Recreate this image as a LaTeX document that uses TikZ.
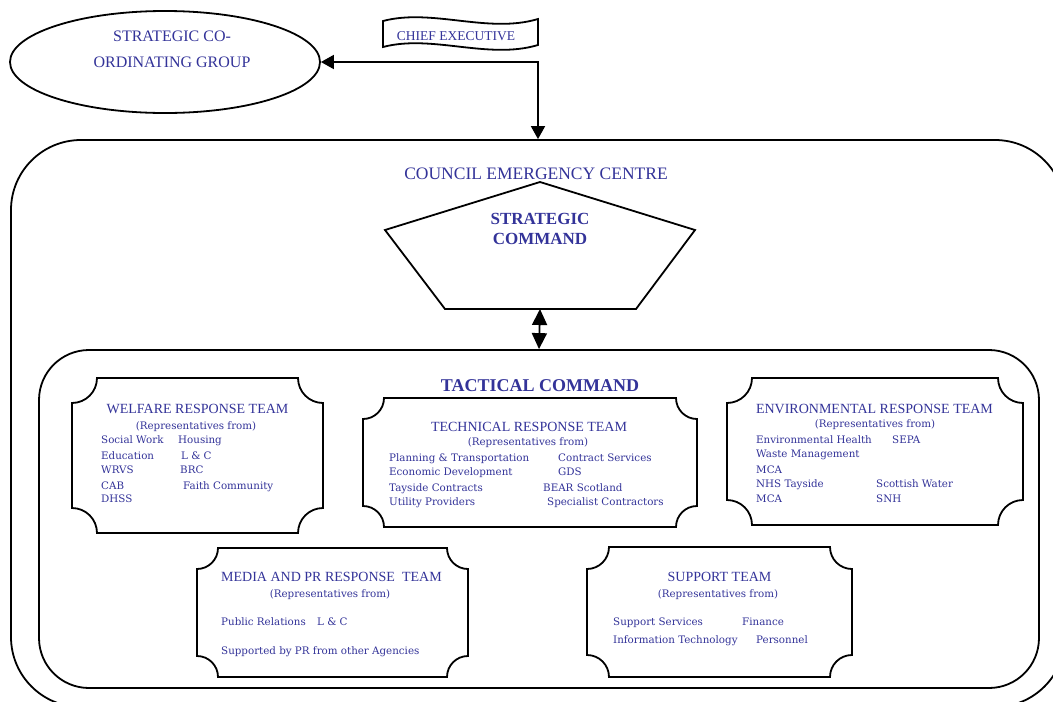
\documentclass[tikz,border=0pt]{standalone}
\usepackage{fontspec}
\setmainfont{Liberation Serif}
\newfontfamily\itemfont{DejaVu Serif}
\usetikzlibrary{shapes.geometric,arrows.meta}
\definecolor{txt}{RGB}{51,51,153}
\tikzset{
 ln/.style={line width=1.8pt, draw=black},
 head/.style={font=\fontsize{14}{16}\selectfont, text=txt, inner sep=0, anchor=base},
 headw/.style={font=\fontsize{14}{16}\selectfont, text=txt, inner sep=0, anchor=base west},
 rep/.style={font=\itemfont\fontsize{10.3}{12}\selectfont, text=txt, inner sep=0, anchor=base},
 item/.style={font=\itemfont\fontsize{10.3}{12}\selectfont, text=txt, inner sep=0, anchor=base west},
 tipboth/.style={{Triangle[length=13pt,width=14pt]}-{Triangle[length=13pt,width=14pt]}},
 tipbig/.style={{Triangle[length=16pt,width=15pt]}-{Triangle[length=16pt,width=15pt]}},
}
\newcommand\plaque[5]{%
 \draw[ln] ({#1+#5},#2) -- ({#3-#5},#2) arc[start angle=180,end angle=90,radius=#5]
 -- (#3,{#4-#5}) arc[start angle=270,end angle=180,radius=#5]
 -- ({#1+#5},#4) arc[start angle=0,end angle=-90,radius=#5]
 -- (#1,{#2+#5}) arc[start angle=90,end angle=0,radius=#5] -- cycle;}
\begin{document}
\begin{tikzpicture}[x=1pt,y=-1pt]
\useasboundingbox (0,0) rectangle (1053,702);
\clip (0,0) rectangle (1053,702);
\fill[white] (0,0) rectangle (1053,702);

% outer council emergency centre
\node[ln, draw, rounded corners=70pt, minimum width=1054pt, minimum height=567pt, inner sep=0] (cec) at (538,423.5) {};
% inner tactical box
\node[ln, draw, rounded corners=50pt, minimum width=1000pt, minimum height=338pt, inner sep=0] (tac) at (539,519) {};

% strategic co-ordinating group
\node[ln, draw, ellipse, minimum width=310pt, minimum height=102pt, inner sep=0] (scg) at (165,62) {};
\node[font=\fontsize{16}{26}\selectfont, text=txt, align=center, inner sep=0] (scgt) at (172,49) {STRATEGIC CO-\\ORDINATING GROUP};

% chief executive banner
\draw[ln] (383,21) .. controls (432,8) and (488,34) .. (538,19) -- (538,45)
  .. controls (488,60) and (432,34) .. (383,47) -- cycle;
\node[font=\fontsize{13.5}{15}\selectfont, text=txt, inner sep=0] (ce) at (456,36) {CHIEF EXECUTIVE};

\draw[ln, tipboth] (scg.east) -| (cec.north);

\node[font=\fontsize{17.5}{20}\selectfont, text=txt, inner sep=0] (cect) at (536,174) {COUNCIL EMERGENCY CENTRE};

% strategic command pentagon
\coordinate (pa) at (540,182);
\coordinate (pr) at (695,230);
\coordinate (pbr) at (636,309);
\coordinate (pbl) at (445,309);
\coordinate (pl) at (385,230);
\coordinate (pb) at (540,309);
\draw[ln, fill=white] (pa) -- (pr) -- (pbr) -- (pbl) -- (pl) -- cycle;
\node[font=\bfseries\fontsize{17}{19.5}\selectfont, text=txt, align=center, inner sep=0] (stc) at (540,229) {STRATEGIC\\COMMAND};

\draw[ln, tipbig] (pb) -- (tac.north);

\node[font=\bfseries\fontsize{18}{20}\selectfont, text=txt, inner sep=0] (tct) at (540,386) {TACTICAL COMMAND};

% welfare
\plaque{72}{378}{323}{533}{25}
\node[head] (wh) at (197.5,413) {WELFARE RESPONSE TEAM};
\node[rep] (wr) at (196,429) {(Representatives from)};
\node[item] (w1) at (101,443) {Social Work};
\node[item] (w2) at (178,443) {Housing};
\node[item] (w3) at (101,459) {Education};
\node[item] (w4) at (181,459) {L \& C};
\node[item] (w5) at (101,473) {WRVS};
\node[item] (w6) at (180,473) {BRC};
\node[item] (w7) at (101,489) {CAB};
\node[item] (w8) at (183,489) {Faith Community};
\node[item] (w9) at (101,502) {DHSS};

% technical
\plaque{363}{398}{697}{527}{21}
\node[head] (th) at (529,431) {TECHNICAL RESPONSE TEAM};
\node[rep] (tr) at (528,445) {(Representatives from)};
\node[item] (t1) at (389,461) {Planning \& Transportation};
\node[item] (t2) at (558,461) {Contract Services};
\node[item] (t3) at (389,475) {Economic Development};
\node[item] (t4) at (558,475) {GDS};
\node[item] (t5) at (389,491) {Tayside Contracts};
\node[item] (t6) at (543,491) {BEAR Scotland};
\node[item] (t7) at (389,505) {Utility Providers};
\node[item] (t8) at (547,505) {Specialist Contractors};

% environmental
\plaque{727}{378}{1023}{525}{25}
\node[head] (eh) at (874.5,413) {ENVIRONMENTAL RESPONSE TEAM};
\node[rep] (er) at (875,427) {(Representatives from)};
\node[item] (e1) at (756,443) {Environmental Health};
\node[item] (e2) at (892,443) {SEPA};
\node[item] (e3) at (756,457) {Waste Management};
\node[item] (e4) at (756,473) {MCA};
\node[item] (e5) at (756,487) {NHS Tayside};
\node[item] (e6) at (876,487) {Scottish Water};
\node[item] (e7) at (756,502) {MCA};
\node[item] (e8) at (876,502) {SNH};

% media
\plaque{197}{548}{468}{677}{21}
\node[headw] (mh) at (221,581) {MEDIA AND PR RESPONSE\ \ TEAM};
\node[rep] (mr) at (330,597) {(Representatives from)};
\node[item] (m1) at (221,625) {Public Relations};
\node[item] (m2) at (317,625) {L \& C};
\node[item] (m3) at (221,654) {Supported by PR from other Agencies};

% support
\plaque{587}{547}{852}{677}{22}
\node[head] (sh) at (719.5,581) {SUPPORT TEAM};
\node[rep] (sr) at (718,597) {(Representatives from)};
\node[item] (s1) at (613,625) {Support Services};
\node[item] (s2) at (742,625) {Finance};
\node[item] (s3) at (613,643) {Information Technology};
\node[item] (s4) at (756,643) {Personnel};
\end{tikzpicture}
\end{document}
